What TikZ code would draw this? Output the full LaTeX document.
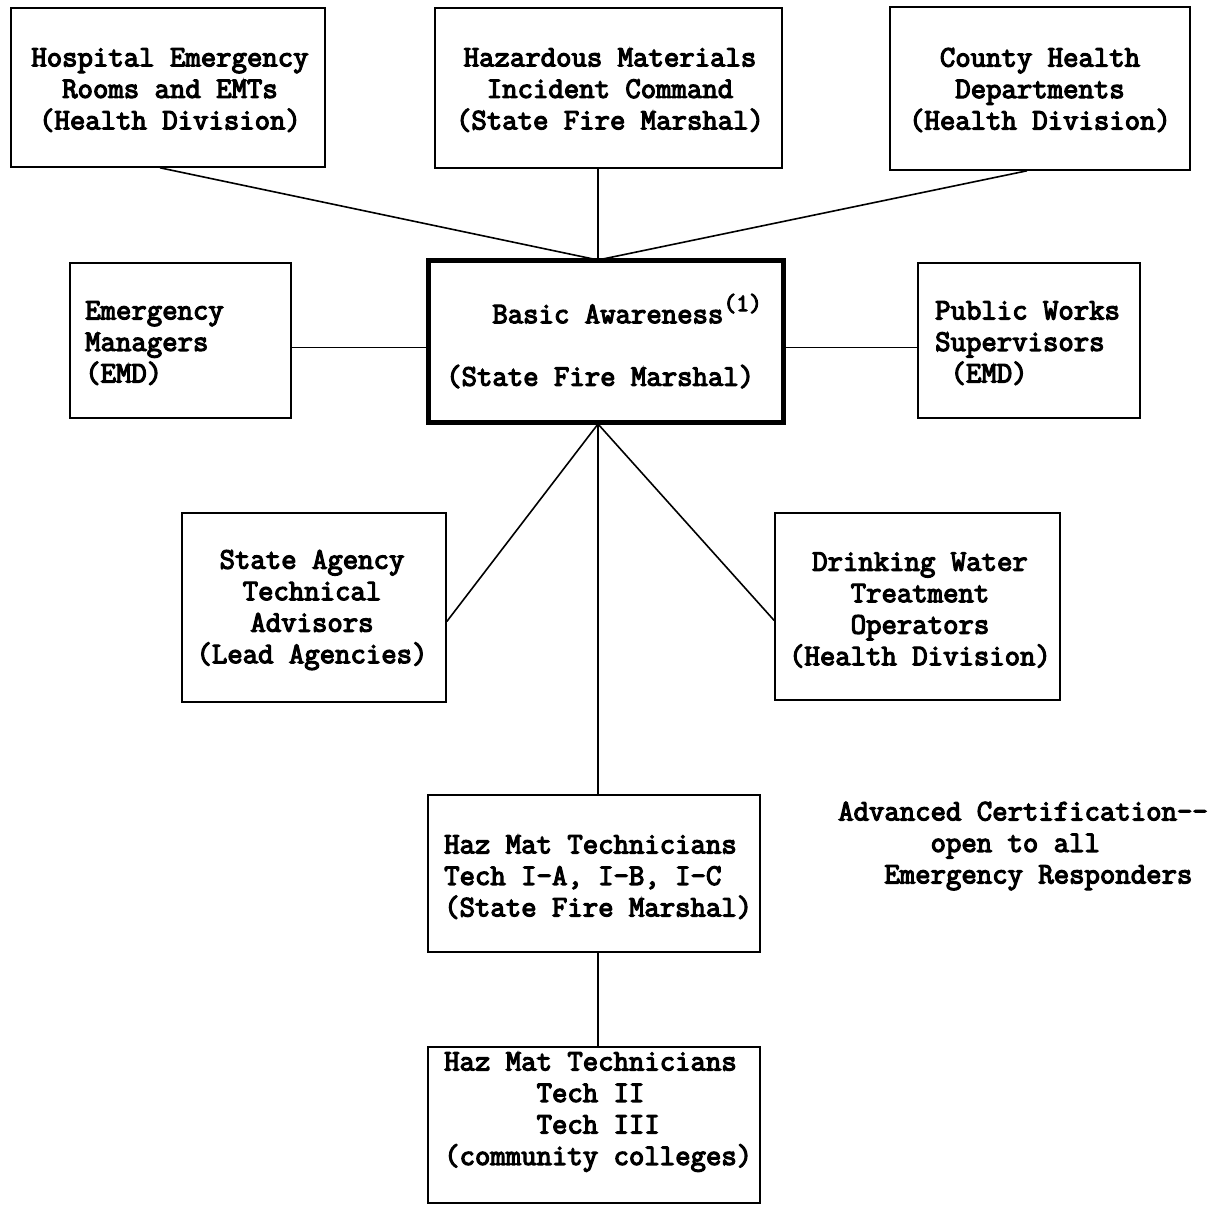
\documentclass[tikz,border=0pt]{standalone}
\usepackage{fontspec}
\newfontfamily\tw{Latin Modern Mono}[FakeBold=4]
\usetikzlibrary{calc}
\tikzset{
  box/.style={draw, line width=1.6pt, inner sep=0pt},
  mainbox/.style={draw, line width=5pt, inner sep=0pt},
  txt/.style={font=\fontsize{29.9}{31.5}\selectfont\tw, inner sep=0pt, align=center},
  ltxt/.style={txt, align=left, anchor=west},
  link/.style={line width=1.6pt}
}
\newcommand{\ind}[1]{\phantom{#1}}
\begin{document}
\begin{tikzpicture}[x=1pt,y=-1pt]
\useasboundingbox[fill=white] (0,0) rectangle (1221,1205);
% boxes
\node[box, minimum width=314pt, minimum height=159pt] (hosp) at (168,87.5) {};
\node[box, minimum width=347pt, minimum height=160pt] (haz) at (608.5,88) {};
\node[box, minimum width=300pt, minimum height=163pt] (cty) at (1040,88.5) {};
\node[box, minimum width=221pt, minimum height=155pt] (em) at (180.5,340.5) {};
\node[mainbox, minimum width=355pt, minimum height=162pt] (basic) at (605.5,341) {};
\node[box, minimum width=222pt, minimum height=155pt] (pw) at (1029,340.5) {};
\node[box, minimum width=264pt, minimum height=189pt] (sa) at (314,607.5) {};
\node[box, minimum width=285pt, minimum height=187pt] (dw) at (917.5,606.5) {};
\node[box, minimum width=332pt, minimum height=157pt] (t1) at (594,873.5) {};
\node[box, minimum width=332pt, minimum height=156pt] (t2) at (594,1125) {};
% texts
\node[txt] (hosp-t) at (170,90) {Hospital Emergency\\Rooms and EMTs\\(Health Division)};
\node[txt] (haz-t) at (610,90) {Hazardous Materials\\Incident Command\\(State Fire Marshal)};
\node[txt] (cty-t) at (1040,90) {County Health\\Departments\\(Health Division)};
\node[ltxt] (em-t) at (85,343) {Emergency\\Managers\\(EMD)};
\node[ltxt] (basic-t) at (446,341) {\ind{xxx}Basic Awareness\raisebox{12pt}{\fontsize{25}{25}\selectfont(1)}\\[31pt](State Fire Marshal)};
\node[ltxt] (pw-t) at (935,343) {Public Works\\Supervisors\\\ind{x}(EMD)};
\node[txt] (sa-t) at (312,610) {State Agency\\Technical\\Advisors\\(Lead Agencies)};
\node[txt] (dw-t) at (920,610) {Drinking Water\\Treatment\\Operators\\(Health Division)};
\node[ltxt] (t1-t) at (444,877) {Haz Mat Technicians\\Tech I-A, I-B, I-C\\(State Fire Marshal)};
\node[ltxt] (t2-t) at (444,1112) {Haz Mat Technicians\\\ind{xxxxxx}Tech II\\\ind{xxxxxx}Tech III\\(community colleges)};
\node[ltxt] (adv-t) at (838,846) {Advanced Certification-{}-\\\ind{xxxxxx}open to all\\\ind{xxx}Emergency Responders};
% hubs
\coordinate (hub) at (598,260);
\coordinate (hub2) at (598,424);
% connectors
\draw[link] ([xshift=-8pt]hosp.south) -- (hub);
\draw[link] (haz.south -| hub) -- (hub);
\draw[link] ([xshift=-13pt]cty.south) -- (hub);
\draw[link] ([yshift=-7pt]em.east) -- ([yshift=-7pt]em.east -| basic.west);
\draw[link] ([yshift=-7pt]pw.west) -- ([yshift=-7pt]pw.west -| basic.east);
\draw[link] (hub2) -- ([yshift=-14pt]sa.east);
\draw[link] (hub2) -- ([yshift=-14pt]dw.west);
\draw[link] (hub2) -- (hub2 |- t1.north);
\draw[link] (t1.south -| hub2) -- (t2.north -| hub2);
\end{tikzpicture}
\end{document}
